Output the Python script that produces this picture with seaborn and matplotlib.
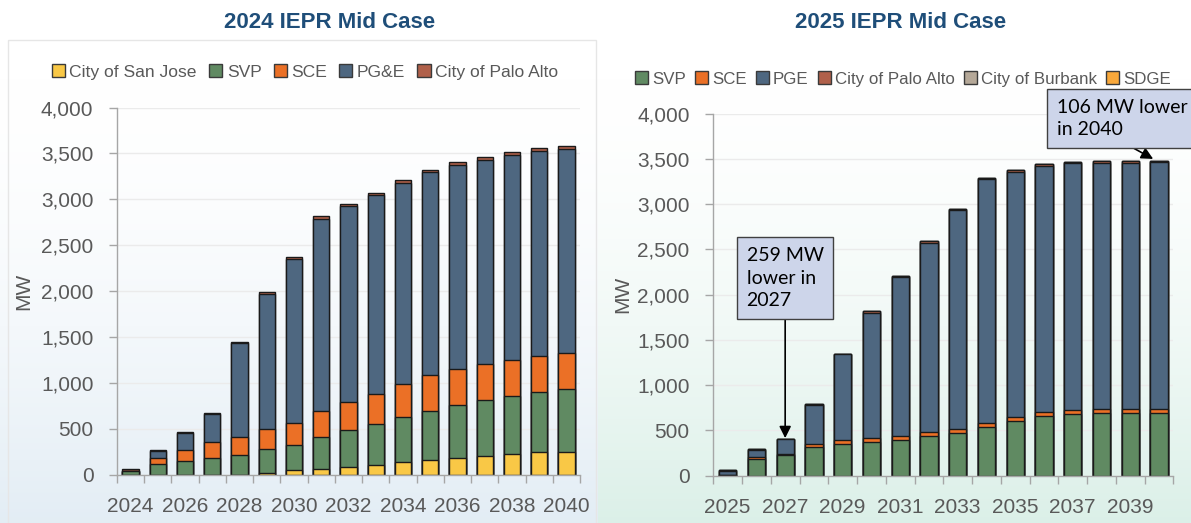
import numpy as np
import pandas as pd
import matplotlib.pyplot as plt
from matplotlib.patches import Patch, Rectangle
import seaborn as sns

# DATA - 2024 IEPR Mid Case
years_2024 = [str(y) for y in range(2024, 2041)]
san_jose_24 = [0, 0, 0, 0, 0, 18, 44, 58, 84, 102, 131, 153, 175, 197, 218, 240, 248]
svp_24 = [35, 110, 150, 182, 215, 255, 273, 353, 397, 448, 495, 535, 579, 612, 637, 659, 681]
sce_24 = [5, 65, 113, 167, 197, 226, 248, 277, 306, 331, 360, 393, 393, 390, 390, 393, 393]
pge_24 = [0, 80, 189, 310, 1016, 1467, 1784, 2102, 2138, 2165, 2192, 2211, 2225, 2231, 2236, 2233, 2227]
palo_alto_24 = [17, 9, 8, 8, 15, 22, 22, 25, 25, 25, 30, 30, 30, 30, 30, 30, 35]

# DATA - 2025 IEPR Mid Case
years_2025 = [str(y) for y in range(2025, 2041)]
svp_25 = [5, 185, 225, 310, 352, 370, 396, 440, 469, 535, 597, 659, 681, 689, 689, 689]
sce_25 = [0, 15, 12, 40, 44, 44, 44, 44, 40, 44, 44, 44, 44, 44, 44, 44]
pge_25 = [50, 81, 161, 431, 942, 1387, 1751, 2087, 2425, 2696, 2715, 2719, 2728, 2722, 2722, 2730]
palo_alto_25 = [3, 8, 10, 10, 10, 12, 15, 15, 15, 15, 15, 15, 15, 15, 15, 15]
burbank_25 = [0] * 16
sdge_25 = [0] * 16

# COLOURS
C_SANJOSE = '#F9C846'
C_SVP = '#608A62'
C_SCE = '#EB7026'
C_PGE = '#4E6780'
C_PALO = '#B0604A'
C_BURBANK = '#B5A898'
C_SDGE = '#F9A83A'
TITLE_COLOR = '#1F4E79'
TEXT_COLOR = '#595959'
EDGE = '#1A1A1A'

sns.set_theme(style='white')
plt.rcParams['font.family'] = ['Liberation Sans', 'DejaVu Sans']

df24 = pd.DataFrame({
    'year': years_2024,
    'City of San Jose': san_jose_24,
    'SVP': svp_24,
    'SCE': sce_24,
    'PG&E': pge_24,
    'City of Palo Alto': palo_alto_24,
})
df25 = pd.DataFrame({
    'year': years_2025,
    'SVP': svp_25,
    'SCE': sce_25,
    'PGE': pge_25,
    'City of Palo Alto': palo_alto_25,
    'City of Burbank': burbank_25,
    'SDGE': sdge_25,
})
series24 = [('City of San Jose', C_SANJOSE), ('SVP', C_SVP), ('SCE', C_SCE),
            ('PG&E', C_PGE), ('City of Palo Alto', C_PALO)]
series25 = [('SVP', C_SVP), ('SCE', C_SCE), ('PGE', C_PGE),
            ('City of Palo Alto', C_PALO), ('City of Burbank', C_BURBANK), ('SDGE', C_SDGE)]

W, H = 1191, 523
fig = plt.figure(figsize=(W / 100, H / 100), dpi=100)

# soft background gradient
bg = fig.add_axes([0, 0, 1, 1], zorder=-10)
yy = np.linspace(0, 1, H)[:, None]
t = np.clip((yy - 0.15) / 0.85, 0, 1) ** 1.6
img = np.ones((H, W, 3))
left_c = np.array([0.89, 0.93, 0.96])
right_c = np.array([0.86, 0.94, 0.91])
img[:, :598] = (1 - t)[:, :, None] * 1 + t[:, :, None] * left_c
img[:, 598:] = (1 - t)[:, :, None] * 1 + t[:, :, None] * right_c
img[:40, :] = 1
bg.imshow(img, aspect='auto', extent=[0, W, H, 0])
bg.add_patch(Rectangle((8, 40), 588, 490, fill=False, edgecolor='#E6E6E6', lw=1))
bg.set_xlim(0, W)
bg.set_ylim(H, 0)
bg.axis('off')


def stacked(ax, df, series):
    cols = [s for s, _ in series]
    cum = df[cols].cumsum(axis=1)
    # draw tallest cumulative first so lower segments overlay it
    for name, color in reversed(series):
        sns.barplot(x=df['year'], y=cum[name], color=color, width=0.6,
                    saturation=1, edgecolor=EDGE, linewidth=1.0,
                    errorbar=None, ax=ax)
    n = len(df)
    ax.set_xlim(-0.5, n - 0.5)
    ax.set_ylim(0, 4000)
    ax.set_facecolor('none')
    ax.set_xticks(range(0, n, 2))
    ax.set_xticklabels(df['year'][::2])
    ax.set_xticks(np.arange(-0.5, n, 1), minor=True)
    ax.set_yticks(range(0, 4001, 500))
    ax.set_yticklabels([f'{v:,}' for v in range(0, 4001, 500)])
    ax.tick_params(axis='x', which='major', length=0, pad=16,
                   labelsize=15, labelcolor=TEXT_COLOR)
    ax.tick_params(axis='x', which='minor', length=6, width=1,
                   color='#A6A6A6', direction='out', bottom=True)
    ax.tick_params(axis='y', length=6, width=1, color='#A6A6A6',
                   direction='out', left=True, pad=11,
                   labelsize=15, labelcolor=TEXT_COLOR)
    ax.yaxis.grid(True, color='#EBEBEB', lw=1)
    ax.set_axisbelow(True)
    for s in ['top', 'right']:
        ax.spines[s].set_visible(False)
    for s in ['left', 'bottom']:
        ax.spines[s].set_color('#A6A6A6')
        ax.spines[s].set_linewidth(1)
    ax.set_xlabel('')
    ax.set_ylabel('MW', fontsize=15, color=TEXT_COLOR)


ax1 = fig.add_axes([117 / W, 1 - 474.5 / H, 463 / W, 367 / H])
stacked(ax1, df24, series24)
ax1.yaxis.set_label_coords(-0.181, 0.5)

ax2 = fig.add_axes([713.3 / W, 1 - 475.5 / H, 460 / W, 362 / H])
stacked(ax2, df25, series25)
ax2.yaxis.set_label_coords(-0.177, 0.5)

# titles
fig.text(330 / W, 1 - 22 / H, '2024 IEPR Mid Case', ha='center', va='center',
         fontsize=16, fontweight='bold', color=TITLE_COLOR)
fig.text(901 / W, 1 - 22 / H, '2025 IEPR Mid Case', ha='center', va='center',
         fontsize=16, fontweight='bold', color=TITLE_COLOR)

# legends
h24 = [Patch(facecolor=c, edgecolor='#3A3A3A', lw=1, label=s) for s, c in series24]
h25 = [Patch(facecolor=c, edgecolor='#3A3A3A', lw=1, label=s) for s, c in series25]
leg_kw = dict(loc='center', frameon=False, handlelength=0.75, handleheight=0.75,
              handletextpad=0.25, borderaxespad=0, labelcolor=TEXT_COLOR)
fig.legend(handles=h24, ncol=5, bbox_to_anchor=(305 / W, 1 - 72 / H),
           columnspacing=0.7, prop={'size': 12.6}, **leg_kw)
fig.legend(handles=h25, ncol=6, bbox_to_anchor=(903 / W, 1 - 79 / H),
           columnspacing=0.55, prop={'size': 12.2}, **leg_kw)

# annotations
tot25 = df25[[s for s, _ in series25]].sum(axis=1)
box = dict(boxstyle='square,pad=0.5', facecolor='#CDD5EA', edgecolor='#404040', lw=1)
arrow = dict(arrowstyle='-|>,head_length=0.5,head_width=0.25', color='black',
             lw=1.2, relpos=(0.5, 0), shrinkA=0, shrinkB=0)
ax2.annotate('259 MW\nlower in\n2027', xy=(2, tot25[2] + 5), xytext=(2, 2180),
             ha='center', va='center', multialignment='left', fontsize=14,
             family=['Lato', 'DejaVu Sans'], linespacing=1.4, color='black',
             bbox=box, arrowprops=arrow)
ax2.annotate('106 MW lower\nin 2040', xy=(14.8, tot25[15] + 20), xytext=(11.45, 3945),
             ha='left', va='center', multialignment='left', fontsize=14,
             family=['Lato', 'DejaVu Sans'], linespacing=1.4, color='black',
             bbox=box, annotation_clip=False,
             arrowprops=dict(arrow, relpos=(0.45, 0)))

plt.savefig('out.png', dpi=100)
